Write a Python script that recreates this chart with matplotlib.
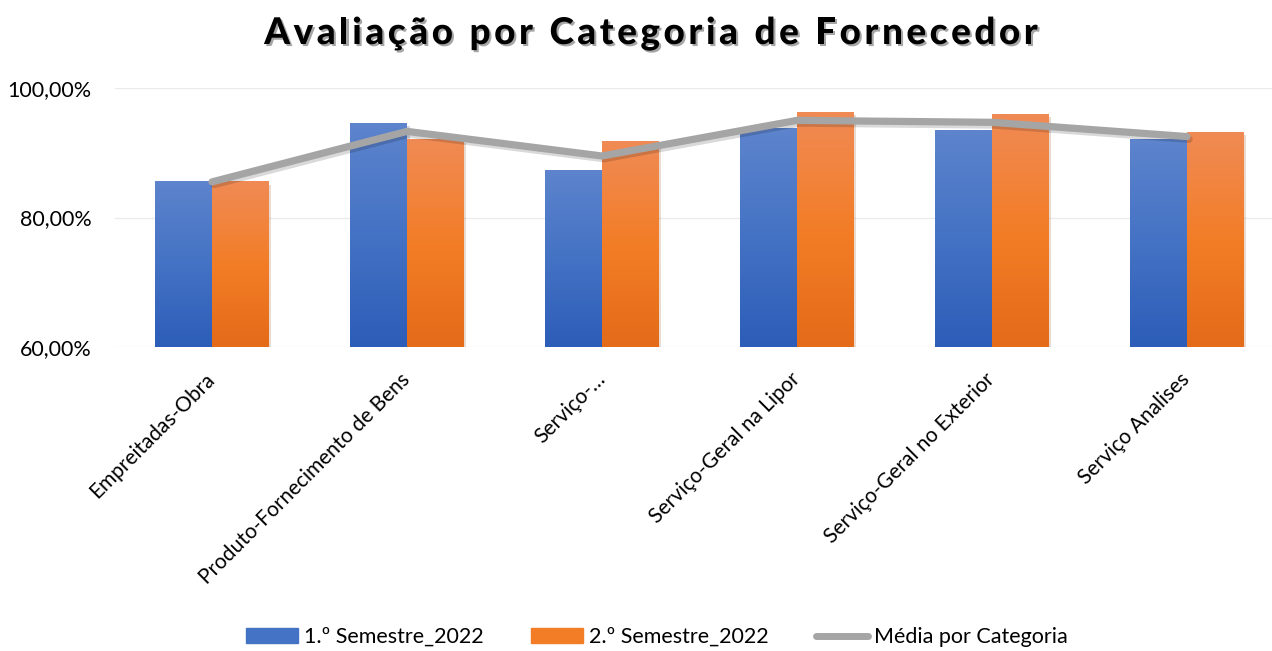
import numpy as np
import matplotlib
matplotlib.use('Agg')
import matplotlib.pyplot as plt
import matplotlib.patheffects as pe
from matplotlib.colors import LinearSegmentedColormap
from matplotlib.patches import Patch
from matplotlib.lines import Line2D
from matplotlib.ticker import FuncFormatter

# --- dados ---
categorias = ['Empreitadas-Obra', 'Produto-Fornecimento de Bens', 'Serviço-…',
              'Serviço-Geral na Lipor', 'Serviço-Geral no Exterior', 'Serviço Analises']
sem1 = [0.855, 0.945, 0.873, 0.937, 0.935, 0.920]
sem2 = [0.855, 0.920, 0.918, 0.962, 0.959, 0.931]
media = [0.855, 0.933, 0.895, 0.950, 0.947, 0.925]
series = ['1.º Semestre_2022', '2.º Semestre_2022', 'Média por Categoria']

plt.rcParams['font.family'] = ['Lato', 'DejaVu Sans']

azul = ['#2c5db8', '#4472c4', '#5d84cd']
laranja = ['#e46b19', '#f37d27', '#f08b55']
cinza = '#a5a5a5'

fig = plt.figure(figsize=(12.72, 6.51), dpi=100)
ax = fig.add_axes([115.5 / 1272, 1 - 347 / 651, 1 - 115.5 / 1272, (347 - 88) / 651])

x = np.arange(len(categorias))
w = 0.29
sombra = [pe.SimplePatchShadow(offset=(2, -2), alpha=0.2, rho=0.6), pe.Normal()]
b1 = ax.bar(x - w / 2, np.array(sem1) - 0.6, w, bottom=0.6, color=azul[1], zorder=2, path_effects=sombra)
b2 = ax.bar(x + w / 2, np.array(sem2) - 0.6, w, bottom=0.6, color=laranja[1], zorder=2, path_effects=sombra)

# gradiente vertical em cada barra
grad = np.linspace(0, 1, 256).reshape(-1, 1)
for barras, cores in [(b1, azul), (b2, laranja)]:
    cmap = LinearSegmentedColormap.from_list('g', cores)
    for r in barras:
        x0, y0 = r.get_x(), r.get_y()
        ax.imshow(grad, extent=[x0, x0 + r.get_width(), y0, y0 + r.get_height()],
                  origin='lower', cmap=cmap, aspect='auto', zorder=2.5)

ax.plot(x, media, color=cinza, lw=5.2, solid_capstyle='round', solid_joinstyle='round', zorder=3,
        path_effects=[pe.SimpleLineShadow(offset=(1.5, -2), alpha=0.15), pe.Normal()])

ax.set_xlim(-0.495, (1272 - 212) / 195)
ax.set_ylim(0.6, 1.0)
ax.set_yticks([0.6, 0.8, 1.0])
ax.yaxis.set_major_formatter(FuncFormatter(lambda v, p: f'{v * 100:.2f}%'.replace('.', ',')))
ax.grid(axis='y', color='#ebebeb', lw=1, zorder=0)
ax.set_axisbelow(True)
for s in ax.spines.values():
    s.set_visible(False)
ax.tick_params(axis='y', length=0, pad=17, labelsize=15.5, labelcolor='black')
ax.set_xticks(x)
ax.set_xticklabels(categorias, rotation=45, ha='right', va='center', rotation_mode='anchor', fontsize=15)
ax.tick_params(axis='x', length=0, pad=21)

# título com espaçamento entre letras
def titulo_espacado(texto, centro_px, y, espaco_px, **kw):
    renderer = fig.canvas.get_renderer()
    W = fig.get_figwidth() * fig.dpi
    larguras = []
    for ch in texto:
        t = fig.text(0, 0, 'n' if ch == ' ' else ch, **kw)
        lw_ = t.get_window_extent(renderer).width
        t.remove()
        larguras.append(lw_ * 0.45 if ch == ' ' else lw_)
    total = sum(larguras) + espaco_px * (len(texto) - 1)
    xp = centro_px - total / 2
    for ch, lw_ in zip(texto, larguras):
        if ch != ' ':
            fig.text(xp / W, y, ch, ha='left', va='baseline',
                     path_effects=[pe.withSimplePatchShadow(offset=(1.5, -1.5), alpha=0.35)], **kw)
        xp += lw_ + espaco_px

titulo_espacado('Avaliação por Categoria de Fornecedor', 651, 1 - 44 / 651, 3.6,
                fontsize=26.5, fontweight='black', color='black')

handles = [Patch(color=azul[1]), Patch(color=laranja[1]),
           Line2D([], [], color=cinza, lw=5, solid_capstyle='round')]
fig.legend(handles, series, loc='center', bbox_to_anchor=(657 / 1272, 1 - 637 / 651), ncol=3,
           frameon=False, fontsize=15.5, handlelength=2.4, handleheight=0.65,
           handletextpad=0.3, columnspacing=2.2)

fig.savefig('out.png', dpi=100)
